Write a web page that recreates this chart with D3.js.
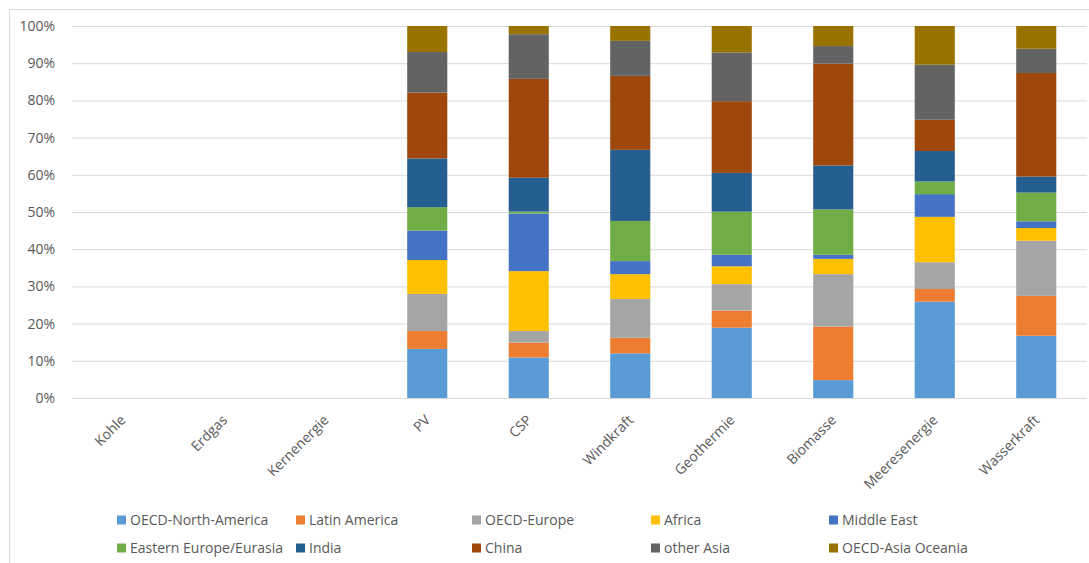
<!DOCTYPE html>
<html>
<head>
<meta charset="utf-8">
<script src="https://cdn.jsdelivr.net/npm/d3@7"></script>
<style>
  body { margin: 0; background: #fff; }
  text { font-family: "Open Sans", "Liberation Sans", sans-serif; fill: #595959; }
</style>
</head>
<body>
<div id="container"></div>
<script>
let w = 1089;
let h = 563;

// data (shares in %)
let categories = ["Kohle", "Erdgas", "Kernenergie", "PV", "CSP", "Windkraft", "Geothermie", "Biomasse", "Meeresenergie", "Wasserkraft"];
let regions = ["OECD-North-America", "Latin America", "OECD-Europe", "Africa", "Middle East",
               "Eastern Europe/Eurasia", "India", "China", "other Asia", "OECD-Asia Oceania"];
let colors = ["#5B9BD5", "#ED7D31", "#A5A5A5", "#FFC000", "#4472C4",
              "#70AD47", "#255E91", "#9E480E", "#636363", "#997300"];

let oecdNorthAmerica = [0, 0, 0, 13.2, 10.9, 12.0, 18.9, 4.8, 25.9, 16.7];
let latinAmerica     = [0, 0, 0, 4.8, 4.0, 4.2, 4.6, 14.4, 3.4, 10.7];
let oecdEurope       = [0, 0, 0, 10.0, 3.1, 10.4, 7.1, 14.1, 7.2, 14.8];
let africa           = [0, 0, 0, 9.1, 16.1, 6.7, 4.8, 4.1, 12.2, 3.4];
let middleEast       = [0, 0, 0, 7.9, 15.5, 3.5, 3.1, 1.1, 6.1, 1.8];
let easternEurope    = [0, 0, 0, 6.3, 0.5, 10.8, 11.6, 12.2, 3.4, 7.7];
let india            = [0, 0, 0, 13.1, 9.1, 19.1, 10.4, 11.8, 8.2, 4.3];
let china            = [0, 0, 0, 17.7, 26.6, 19.9, 19.3, 27.4, 8.4, 27.8];
let otherAsia        = [0, 0, 0, 10.9, 12.0, 9.4, 13.1, 4.7, 14.8, 6.5];
let oecdAsiaOceania  = [0, 0, 0, 7.0, 2.2, 4.0, 7.1, 5.4, 10.4, 6.1];

let tickLabels = ["0%", "10%", "20%", "30%", "40%", "50%", "60%", "70%", "80%", "90%", "100%"];

let seriesValues = [oecdNorthAmerica, latinAmerica, oecdEurope, africa, middleEast,
                    easternEurope, india, china, otherAsia, oecdAsiaOceania];

// build table for d3.stack
let table = categories.map(function(c, i){
  let row = {category: c};
  regions.forEach(function(r, j){ row[r] = seriesValues[j][i]; });
  return row;
});

let viz = d3.select("#container").append("svg")
    .attr("width", w)
    .attr("height", h)
    .style("display", "block")
;

// chart border
viz.append("rect")
    .attr("x", 9.5).attr("y", 9.5)
    .attr("width", w + 20).attr("height", h + 20)
    .attr("fill", "none")
    .attr("stroke", "#D9D9D9")
;

let plotLeft = 72, plotRight = 1087, plotTop = 26, plotBottom = 398;

let xScale = d3.scaleBand().domain(categories).range([plotLeft, plotRight]).paddingInner(0.605).paddingOuter(0.3025);
let yScale = d3.scaleLinear().domain([0, 1]).range([plotBottom, plotTop]);

// gridlines + y labels
let yAxis = d3.axisLeft(yScale)
    .tickValues(d3.range(0, 1.0001, 0.1))
    .tickSize(-(plotRight - plotLeft))
    .tickPadding(17)
    .tickFormat(function(d, i){ return tickLabels[i]; })
;
let yAxisGroup = viz.append("g")
    .attr("class", "yaxisgroup")
    .attr("transform", "translate(" + plotLeft + ",0)")
    .call(yAxis)
;
yAxisGroup.select(".domain").remove();
yAxisGroup.selectAll("line").attr("stroke", "#D9D9D9");
yAxisGroup.selectAll("text")
    .attr("font-size", "14px")
    .attr("fill", "#595959")
    .style("font-family", "'Open Sans', sans-serif")
;

// stacked bars
let stack = d3.stack().keys(regions).offset(d3.stackOffsetExpand);
let stacked = stack(table);

let graphGroup = viz.append("g").attr("class", "graphgroup");
let layers = graphGroup.selectAll(".layer").data(stacked).enter()
  .append("g")
    .attr("class", "layer")
    .attr("fill", function(d, i){ return colors[i]; })
;
layers.selectAll("rect").data(function(d){ return d; }).enter()
  .append("rect")
    .attr("x", function(d){ return xScale(d.data.category); })
    .attr("width", xScale.bandwidth())
    .attr("y", function(d){ return yScale(d[1]); })
    .attr("height", function(d){ return Math.max(0, yScale(d[0]) - yScale(d[1])); })
;

// x labels, rotated
let xLabels = viz.append("g").attr("class", "xaxisgroup");
xLabels.selectAll("text").data(categories).enter()
  .append("text")
    .attr("text-anchor", "end")
    .attr("font-size", "14px")
    .attr("transform", function(d){
      let cx = xScale(d) + xScale.bandwidth() / 2 - 3;
      return "translate(" + cx + ",414) rotate(-45)";
    })
    .attr("dy", "0.7em")
    .text(function(d){ return d; })
;

// legend
let colX = [117, 296, 472, 651, 829];
let rowY = [520, 548];
let legend = viz.append("g").attr("class", "legend");
regions.forEach(function(r, i){
  let row = Math.floor(i / 5), col = i % 5;
  let item = legend.append("g");
  item.append("rect")
      .attr("width", 9).attr("height", 9)
      .attr("y", -4.5)
      .attr("fill", colors[i]);
  item.append("text")
      .attr("x", 13)
      .attr("dy", "0.35em")
      .attr("font-size", "14px")
      .text(r);
  item.datum({row: row, col: col});
});
// place items, pushing along when the previous label is too long
[0, 1].forEach(function(row){
  let prevEnd = 0;
  legend.selectAll("g").filter(function(d){ return d.row === row; }).each(function(d){
    let x = Math.max(colX[d.col], prevEnd + 8);
    d3.select(this).attr("transform", "translate(" + x + "," + rowY[row] + ")");
    prevEnd = x + 13 + d3.select(this).select("text").node().getComputedTextLength();
  });
});
</script>
</body>
</html>
